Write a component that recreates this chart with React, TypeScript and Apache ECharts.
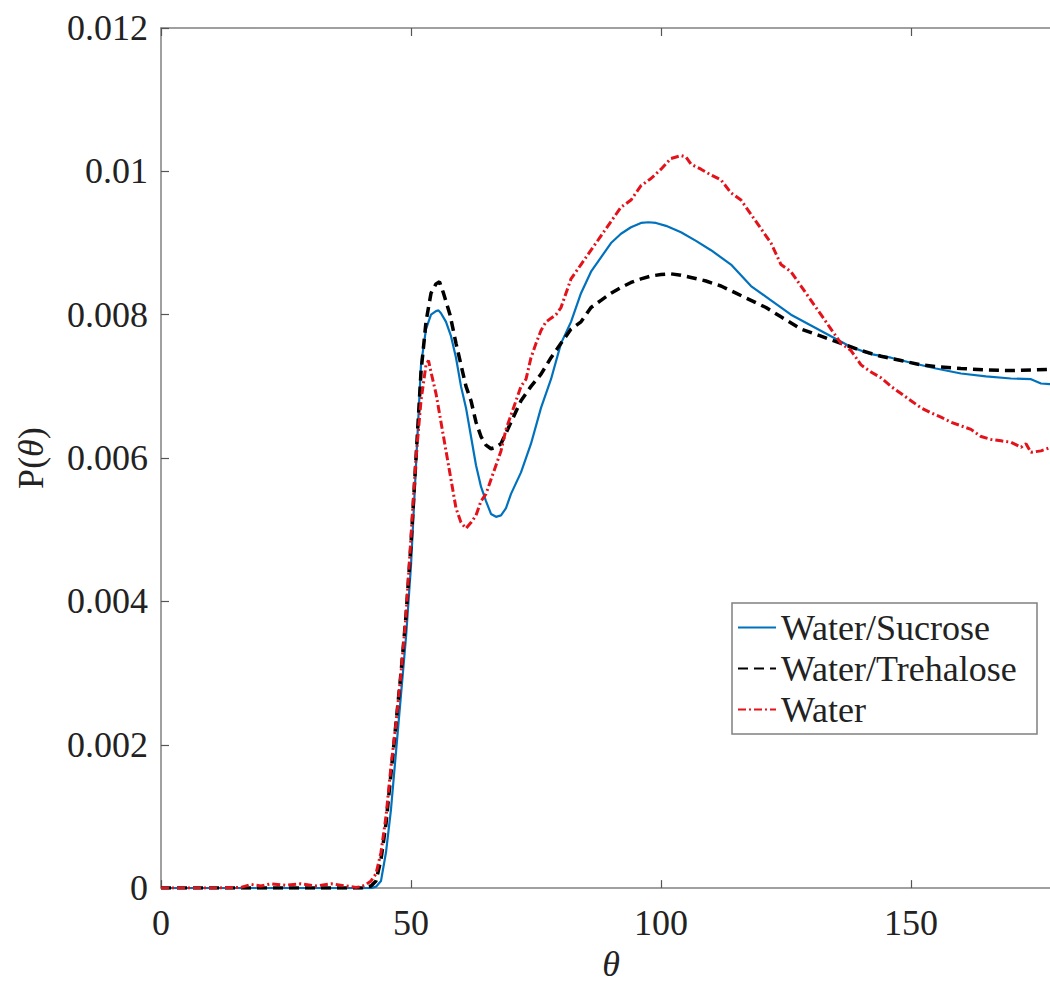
import React, { useEffect, useRef } from "react";
import * as echarts from "echarts";

// theta (deg), P(theta)
const sucroseData: [number, number][] = [
  [0, 0], [10, 0], [20, 0], [30, 0], [40, 0], [42, 0], [43, 0.00002], [44, 0.0001],
  [45, 0.0005], [46, 0.0011], [47, 0.0019], [48, 0.0027], [49, 0.0035], [50, 0.0045],
  [51, 0.0059], [52, 0.0073], [53, 0.0078], [54, 0.008], [55, 0.00805], [55.5, 0.00806],
  [56, 0.00802], [57, 0.0079], [58, 0.0077], [59, 0.0074], [60, 0.007], [61, 0.0067],
  [62, 0.0063], [63, 0.0059], [64, 0.0056], [65, 0.0054], [66, 0.00522], [67, 0.00518],
  [68, 0.0052], [69, 0.0053], [70, 0.0055], [72, 0.0058], [74, 0.0062], [76, 0.0067],
  [78, 0.0071], [80, 0.0076], [82, 0.0079], [84, 0.0083], [86, 0.0086], [88, 0.0088],
  [90, 0.009], [92, 0.00913], [94, 0.00922], [96, 0.00928], [97.5, 0.00929], [99, 0.00928],
  [101, 0.00924], [104, 0.00915], [107, 0.00903], [110, 0.0089], [114, 0.0087], [118, 0.0084],
  [122, 0.0082], [126, 0.008], [130, 0.00785], [134, 0.0077], [138, 0.00755], [142, 0.00745],
  [146, 0.0074], [150, 0.00733], [155, 0.00725], [160, 0.00718], [165, 0.00714], [170, 0.00711],
  [174, 0.0071], [176, 0.00704], [178, 0.00703], [180, 0.00702],
];

const trehaloseData: [number, number][] = [
  [0, 0], [10, 0], [20, 0], [30, 0], [40, 0], [42, 0.00003], [43, 0.0001], [44, 0.0004],
  [45, 0.0009], [46, 0.0016], [47, 0.0023], [48, 0.003], [49, 0.0038], [50, 0.0048],
  [51, 0.006], [52, 0.0072], [53, 0.0079], [54, 0.0083], [55, 0.00843], [55.7, 0.00846],
  [56.5, 0.0083], [57.8, 0.008], [59, 0.0076], [60, 0.0073], [61, 0.007], [62, 0.0068],
  [63, 0.0065], [64, 0.0063], [65, 0.00618], [66, 0.00613], [67, 0.00615], [68, 0.0062],
  [70, 0.0065], [72, 0.0068], [74, 0.007], [76, 0.00717], [78, 0.0074], [80, 0.0076],
  [82, 0.0078], [84, 0.0079], [86, 0.0081], [88, 0.0082], [90, 0.0083], [92, 0.00838],
  [94, 0.00845], [96, 0.0085], [98, 0.00854], [100, 0.00856], [102, 0.00857], [104, 0.00855],
  [106, 0.00852], [109, 0.00847], [112, 0.0084], [115, 0.0083], [118, 0.0082], [121, 0.0081],
  [124, 0.00797], [128, 0.0078], [132, 0.0077], [136, 0.0076], [140, 0.0075], [144, 0.00742],
  [148, 0.00736], [152, 0.0073], [156, 0.00727], [160, 0.00725], [165, 0.00723], [170, 0.00722],
  [175, 0.00723], [180, 0.00724],
];

const waterData: [number, number][] = [
  [0, 0], [10, 0], [16, 0.00001], [18, 0.00005], [20, 0.00003], [22, 0.00006], [25, 0.00004],
  [28, 0.00006], [31, 0.00003], [34, 0.00006], [37, 0.00003], [39, 0.00001], [40, 0.00002],
  [41, 0.00005], [42, 0.0001], [43, 0.0002], [44, 0.0005], [45, 0.001], [46, 0.0017],
  [47, 0.0023], [48, 0.003], [49, 0.0038], [50, 0.0049], [51, 0.006], [52, 0.0068],
  [53, 0.0073], [53.5, 0.00736], [54, 0.0072], [55, 0.0069], [56, 0.0065], [57, 0.0061],
  [58, 0.0057], [59, 0.0053], [60, 0.0051], [61, 0.00502], [62, 0.0051], [63, 0.0052],
  [64, 0.0054], [65, 0.0055], [66, 0.0057], [67, 0.0059], [68, 0.0061], [69, 0.0064],
  [70, 0.0066], [71, 0.0068], [72, 0.007], [73, 0.0071], [74, 0.0074], [75, 0.0076],
  [76, 0.00778], [77, 0.0079], [78, 0.00795], [79, 0.008], [80, 0.0081], [81, 0.0083],
  [82, 0.0085], [84, 0.0087], [86, 0.0089], [88, 0.0091], [90, 0.0093], [92, 0.0095],
  [94, 0.0096], [96, 0.0098], [98, 0.0099], [100, 0.01003], [102, 0.01018], [104, 0.01022],
  [105, 0.0102], [106, 0.0101], [108, 0.01003], [110, 0.00995], [112, 0.00988], [114, 0.0097],
  [116, 0.0096], [118, 0.0094], [120, 0.0092], [122, 0.009], [124, 0.0087], [126, 0.0086],
  [128, 0.0084], [130, 0.0082], [132, 0.008], [134, 0.0078], [136, 0.0076], [138, 0.0075],
  [140, 0.0073], [142, 0.0072], [144, 0.00712], [146, 0.007], [148, 0.0069], [150, 0.0068],
  [152, 0.0067], [154, 0.00663], [156, 0.00657], [158, 0.0065], [160, 0.00645], [162, 0.0064],
  [164, 0.0063], [166, 0.00626], [168, 0.00624], [170, 0.00622], [172, 0.00615], [173, 0.0062],
  [174, 0.00608], [176, 0.0061], [178, 0.00615], [180, 0.0061],
];

const seriesNames = ["Water/Sucrose", "Water/Trehalose", "Water"];
const xTicks = [0, 50, 100, 150];

const FONT = "'Liberation Serif', 'Times New Roman', serif";
const AXIS_COLOR = "#808080";
const TEXT_COLOR = "#222222";

export default function App() {
  const ref = useRef<HTMLDivElement>(null);

  useEffect(() => {
    if (!ref.current) return;
    const chart = echarts.init(ref.current, null, { renderer: "svg" });
    const axisLine = { show: true, onZero: false, lineStyle: { color: AXIS_COLOR, width: 1.5 } };
    const axisTick = { show: true, inside: true, length: 8, lineStyle: { color: "#555", width: 1.2 } };
    chart.setOption({
      animation: false,
      backgroundColor: "#ffffff",
      grid: { left: 161, top: 28, width: 900, height: 869, show: false },
      xAxis: [
        {
          type: "value",
          min: 0,
          max: 180,
          interval: 50,
          position: "bottom",
          axisLine,
          axisTick,
          splitLine: { show: false },
          axisLabel: {
            fontFamily: FONT,
            fontSize: 36,
            color: TEXT_COLOR,
            margin: 17,
            formatter: (v: number) => (xTicks.includes(v) ? String(v) : ""),
          },
          name: "θ",
          nameLocation: "middle",
          nameGap: 57,
          nameTextStyle: { fontFamily: FONT, fontStyle: "italic", fontSize: 36, color: TEXT_COLOR },
        },
        {
          type: "value",
          min: 0,
          max: 180,
          interval: 50,
          position: "top",
          axisLine,
          axisTick,
          splitLine: { show: false },
          axisLabel: { show: false },
        },
      ],
      yAxis: {
        type: "value",
        min: 0,
        max: 0.012,
        interval: 0.002,
        axisLine,
        axisTick,
        splitLine: { show: false },
        axisLabel: {
          fontFamily: FONT,
          fontSize: 36,
          color: TEXT_COLOR,
          margin: 13,
          formatter: (v: number) => String(Number(v.toFixed(3))),
        },
        name: "P({i|θ})",
        nameLocation: "middle",
        nameGap: 112,
        nameRotate: 90,
        nameTextStyle: {
          fontFamily: FONT,
          fontSize: 36,
          color: TEXT_COLOR,
          rich: { i: { fontFamily: FONT, fontStyle: "italic", fontSize: 36, color: TEXT_COLOR } },
        },
      },
      legend: {
        orient: "vertical",
        left: 732,
        top: 603,
        itemWidth: 38,
        itemHeight: 14,
        itemGap: 0,
        padding: [4, 8, 4, 5],
        backgroundColor: "#ffffff",
        borderColor: AXIS_COLOR,
        borderWidth: 1.5,
        borderRadius: 0,
        itemStyle: { opacity: 0 },
        data: seriesNames,
        textStyle: { fontFamily: FONT, fontSize: 36, color: TEXT_COLOR, lineHeight: 41, width: 248 },
      },
      series: [
        {
          name: seriesNames[0],
          type: "line",
          data: sucroseData,
          showSymbol: false,
          symbol: "none",
          lineStyle: { color: "#0072BD", width: 2.2, type: "solid" },
          itemStyle: { color: "#0072BD" },
        },
        {
          name: seriesNames[1],
          type: "line",
          data: trehaloseData,
          showSymbol: false,
          symbol: "none",
          lineStyle: { color: "#000000", width: 3.5, type: [10, 6] },
          itemStyle: { color: "#000000" },
        },
        {
          name: seriesNames[2],
          type: "line",
          data: waterData,
          showSymbol: false,
          symbol: "none",
          lineStyle: { color: "#e3121b", width: 3, type: [8, 3, 2, 3] },
          itemStyle: { color: "#e3121b" },
        },
      ],
    });
    return () => chart.dispose();
  }, []);

  return (
    <div style={{ position: "fixed", left: 0, top: 0, width: 1050, height: 987, overflow: "hidden", background: "#fff" }}>
      <div ref={ref} style={{ width: 1100, height: 987 }} />
    </div>
  );
}
